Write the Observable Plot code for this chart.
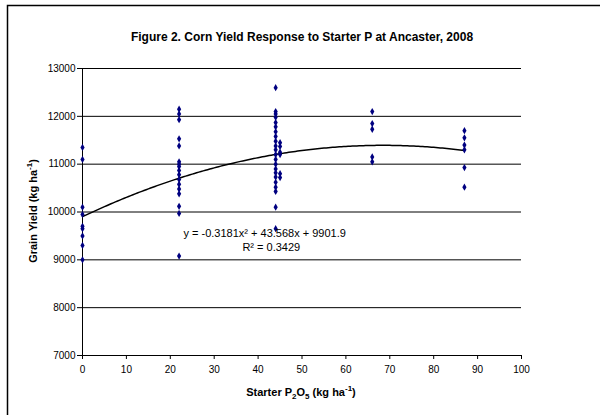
<!DOCTYPE html>
<html>
<head>
<meta charset="utf-8">
<script src="https://cdn.jsdelivr.net/npm/d3@7"></script>
<script src="https://cdn.jsdelivr.net/npm/@observablehq/plot@0.6"></script>
<style>
  html, body { margin: 0; padding: 0; background: #fff; }
  #chart { width: 600px; height: 415px; }
  svg { font-family: "Liberation Sans", Arial, sans-serif; }
</style>
</head>
<body>
<div id="chart"></div>
<script>
const title = "Figure 2. Corn Yield Response to Starter P at Ancaster, 2008";
const xTicks = [0, 10, 20, 30, 40, 50, 60, 70, 80, 90, 100];
const yTicks = [7000, 8000, 9000, 10000, 11000, 12000, 13000];

// observed yields by starter rate (kg/ha)
const rate0 = [11350, 11100, 10100, 9950, 9700, 9650, 9500, 9300, 9000];
const rate22 = [12150, 12050, 11930, 11530, 11380, 11050, 11000, 10950, 10870, 10780, 10680, 10580, 10480, 10380, 10120, 9970, 9080];
const rate44 = [12600, 12100, 12050, 11980, 11870, 11780, 11680, 11580, 11480, 11380, 11300, 11200, 11100, 11000, 10900, 10820, 10730, 10620, 10520, 10430, 10100, 9650];
const rate45 = [11450, 11370, 11250, 11200, 10800, 10720];
const rate66 = [12100, 11850, 11730, 11150, 11050];
const rate87 = [11700, 11550, 11400, 11300, 10930, 10520];

// fitted polynomial trendline coefficients
const coefA = -0.3181, coefB = 43.568, coefC = 9901.9;
const eqText = "y = -0.3181x² + 43.568x + 9901.9";
const r2Text = "R² = 0.3429";

const groups = [[0, rate0], [22, rate22], [44, rate44], [45, rate45], [66, rate66], [87, rate87]];
const points = groups.flatMap(([x, ys]) => ys.map(y => ({x, y})));
const curve = d3.range(0, 87.01, 0.5).map(x => ({x, y: coefA * x * x + coefB * x + coefC}));

const chart = Plot.plot({
  width: 600,
  height: 415,
  marginLeft: 82,
  marginRight: 79,
  marginTop: 68,
  marginBottom: 60,
  style: {fontFamily: "Liberation Sans, Arial, sans-serif", fontSize: "10px", color: "#000", background: "#fff"},
  x: {domain: [0, 100], ticks: xTicks, label: null},
  y: {domain: [7000, 13000], ticks: yTicks, label: null},
  marks: [
    Plot.ruleY(yTicks.filter(d => d > 7000), {stroke: "#000", strokeWidth: 1}),
    Plot.ruleY([7000], {stroke: "#000", strokeWidth: 1}),
    Plot.ruleX([0], {stroke: "#000", strokeWidth: 1}),
    Plot.axisX({ticks: xTicks, tickSize: 4, tickPadding: 6, fontSize: 10, label: null, tickFormat: d => String(d)}),
    Plot.axisY({ticks: yTicks, tickSize: 5, tickPadding: 2, fontSize: 10, label: null, tickFormat: d => String(d)}),
    Plot.line(curve, {x: "x", y: "y", stroke: "#000", strokeWidth: 1.5}),
    Plot.dot(points, {x: "x", y: "y", symbol: "diamond", r: 2.2, fill: "#000080", stroke: "none"}),
    Plot.text([eqText], {x: 41.5, y: 9550, text: d => d, fontSize: 11, fill: "#000"}),
    Plot.text([r2Text], {x: 43, y: 9255, text: d => d, fontSize: 11, fill: "#000"}),
    Plot.text([title], {frameAnchor: "top", dy: -36, text: d => d, fontSize: 12, fontWeight: "bold", fill: "#000"})
  ]
});

const svg = d3.select(chart);
// outer chart frame
svg.insert("rect", ":first-child")
  .attr("x", 7.5).attr("y", 5.5).attr("width", 700).attr("height", 500)
  .attr("fill", "none").attr("stroke", "#000").attr("stroke-width", 1.5);

// x axis title with subscripts/superscripts
const xt = svg.append("text")
  .attr("x", 301).attr("y", 396)
  .attr("text-anchor", "middle")
  .attr("font-size", 11).attr("font-weight", "bold").attr("fill", "#000");
xt.append("tspan").text("Starter P");
xt.append("tspan").attr("font-size", 8).attr("dy", 3).text("2");
xt.append("tspan").attr("dy", -3).text("O");
xt.append("tspan").attr("font-size", 8).attr("dy", 3).text("5");
xt.append("tspan").attr("dy", -3).text(" (kg ha");
xt.append("tspan").attr("font-size", 8).attr("dy", -5).text("-1");
xt.append("tspan").attr("dy", 5).text(")");

// y axis title
const yt = svg.append("text")
  .attr("transform", "translate(37,211) rotate(-90)")
  .attr("text-anchor", "middle")
  .attr("font-size", 11).attr("font-weight", "bold").attr("fill", "#000");
yt.append("tspan").text("Grain Yield (kg ha");
yt.append("tspan").attr("font-size", 8).attr("dy", -5).text("-1");
yt.append("tspan").attr("dy", 5).text(")");

document.getElementById("chart").appendChild(chart);
</script>
</body>
</html>
